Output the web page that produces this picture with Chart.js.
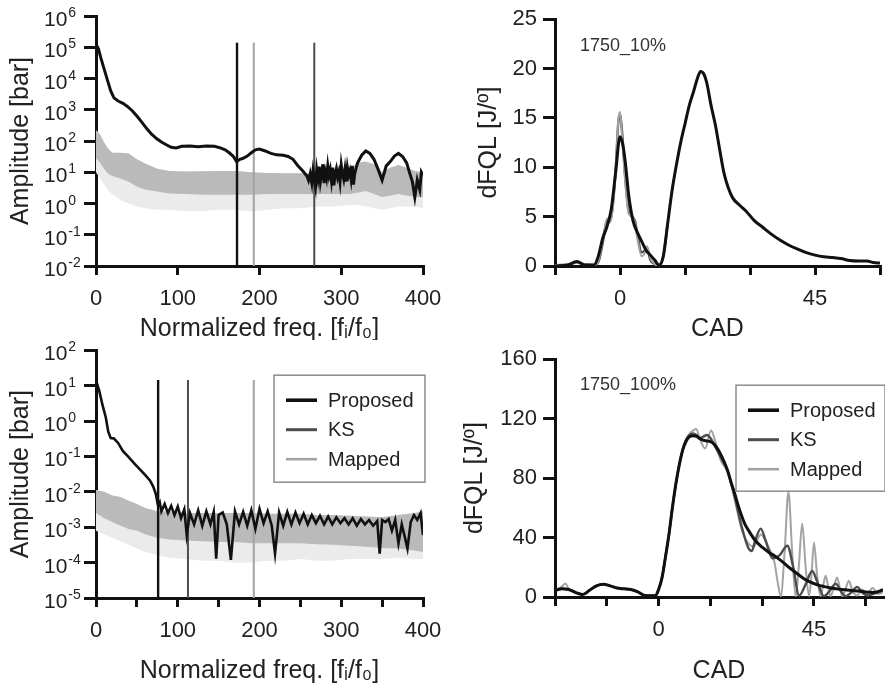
<!DOCTYPE html>
<html>
<head>
<meta charset="utf-8">
<script src="https://cdn.jsdelivr.net/npm/chart.js@4"></script>
<style>
body { margin: 0; background: #fff; width: 885px; height: 683px; overflow: hidden; position: relative; }
canvas { position: absolute; }
</style>
</head>
<body>
<canvas id="c1" width="442" height="340" style="left:0;top:0"></canvas>
<canvas id="c2" width="443" height="340" style="left:442px;top:0"></canvas>
<canvas id="c3" width="442" height="343" style="left:0;top:340px"></canvas>
<canvas id="c4" width="443" height="343" style="left:442px;top:340px"></canvas>
<script>
// ---- data ----
const seriesNames = ['Proposed', 'KS', 'Mapped'];

// top left: spectrum, 1750_10%
const tlFreq = [0,3,6,10,14,18,22,27,33,38, 44,50,56,62,68,74,80,86,92,98, 105,115,125,135,145,152,158,163,168,172, 176,180,185,190,195,200,207,214,221,229, 235,241,247,253,258,260,262,264,265.5,267, 268.5,270,271.5,273,274.5,276,277.5,279,280.5,282, 283.5,285,286.5,288,289.5,291,292.5,294,295.5,297, 298.5,300,301.5,303,304.5,306,307.5,309,310.5,312, 313.5,315,316.5,318,320,325,330,335,340,345, 350,355,360,365,370,375,380,384,387,390, 393,396,398,400];
const tlProposed = [1.26e5,8.9e4,4.5e4,2.0e4,8.9e3,4.0e3,2.4e3,1.9e3,1.6e3,1.3e3, 950,630,400,250,166,120,93,76,63,60, 68,69,66,69,68,60,52,42,32,22, 26,28,33,42,52,55,48,40,36,35, 32,26,16,11,7.6,5.5,9,4.5,11,6, 3.5,12,6.5,15,5,9,18,4.5,10,6.5, 16,8,12,5.5,14,3.8,9,13,7,10, 5,17,9,6,12,5,14,8,11,6, 16,4,9,13,20,35,48,40,26,12.6, 5.6,16,22,33,40,32,20,8.9,5,1.6, 5.6,2.8,10,7.9];
const tlBandFreq = [0,5,10,15,20,30,40,50,60,75,90,110,130,150,170,190,210,230,250,270,290,310,320,330,340,350,360,370,380,390,400];
const tlBandHigh = [220,160,89,56,42,42,40,26,19,13,11,10.5,10.7,11,11,10,9.5,9.3,9.3,9.5,10,12.6,20,22,18,10,14,17,14,11,10];
const tlBandLow = [28,20,12.6,8.9,7.6,6.3,5,3.5,2.8,2.4,2.1,2,1.9,1.9,1.9,1.9,2,2,2,2,2,2,2.2,2.5,2,1.6,1.8,2,1.8,1.6,1.6];
const tlBandSparse = [10,6.3,4,2.5,2,1.26,1,0.8,0.7,0.63,0.63,0.56,0.56,0.63,0.63,0.56,0.63,0.7,0.7,0.8,0.8,0.9,0.9,0.8,0.7,0.63,0.7,0.8,0.8,0.8,0.7];
const tlCutoffFreq = [172.5, 267, 193];   // Proposed, KS, Mapped
const tlCutoffTop = 1.4e5;
const tlDecades = [1e-2,1e-1,1e0,1e1,1e2,1e3,1e4,1e5,1e6];

// bottom left: spectrum, 1750_100%
const blFreq = [0,4,8,12,15,18,22,27,33,40, 47,54,60,66,70,73,76,78,80,84, 88,92,96,100,104,108,111,115,120,125, 130,135,140,144,147,150,155,160,165,170, 175,180,185,190,195,200,205,210,215,219, 224,229,234,239,244,249,254,259,264,269, 274,279,284,289,294,299,304,309,314,319, 324,329,334,339,344,347,350,354,358,362, 366,370,374,378,381,385,389,393,397,400];
const blProposed = [14,7.1,2.8,1.26,0.5,0.33,0.32,0.24,0.14,0.095, 0.063,0.042,0.03,0.021,0.014,0.0089,0.004,0.005,0.0028,0.0045, 0.0025,0.004,0.0022,0.0038,0.0018,0.0032,0.0006,0.0025,0.0012,0.003, 0.0011,0.0028,0.0012,0.0027,0.00013,0.0022,0.0026,0.0012,0.00012,0.0028, 0.0012,0.0027,0.0011,0.003,0.0009,0.0033,0.0013,0.0028,0.0011,0.00018, 0.0026,0.0011,0.0027,0.0012,0.0026,0.0013,0.0024,0.0012,0.0022,0.0013, 0.0021,0.0012,0.002,0.0012,0.0019,0.0013,0.0018,0.0012,0.0018,0.0011, 0.0017,0.0012,0.0016,0.0011,0.0015,0.00018,0.0016,0.0014,0.0017,0.0008, 0.0016,0.00035,0.0012,0.0005,0.00025,0.0014,0.0022,0.0016,0.0025,0.0006];
const blBandFreq = [0,10,20,30,40,50,60,75,90,110,130,150,170,190,210,230,250,270,290,310,330,350,370,390,400];
const blBandHigh = [0.0112,0.01,0.0079,0.0071,0.0056,0.0045,0.0035,0.0028,0.0028,0.0025,0.0025,0.0025,0.0025,0.0025,0.0024,0.0024,0.0024,0.0022,0.0022,0.0021,0.002,0.0019,0.0022,0.0025,0.0028];
const blBandLow = [0.0025,0.0018,0.0014,0.0011,0.00089,0.0008,0.00063,0.0005,0.00045,0.00042,0.0004,0.00038,0.00038,0.00035,0.00035,0.00035,0.00035,0.00033,0.00032,0.0003,0.00028,0.00026,0.00025,0.00022,0.0002];
const blBandSparse = [0.0008,0.00063,0.0005,0.0004,0.00032,0.00025,0.0002,0.00016,0.00014,0.000126,0.000112,0.000112,0.0001,0.0001,0.000112,0.000112,0.000126,0.000112,0.000112,0.000126,0.000126,0.000126,0.00014,0.000126,0.000126];
const blCutoffFreq = [76, 112.5, 193];
const blCutoffTop = 14.5;
const blDecades = [1e-5,1e-4,1e-3,1e-2,1e-1,1e0,1e1,1e2];

// top right: heat release, 1750_10%
const trCad = [-15,-12,-10,-8,-6,-5,-4,-3,-2,-1, 0,0.6,1.2,2,3,4,5,6,7,8, 9,10,11,12,13,14,15,16,17,18, 18.6,19.4,20,21,22,23,24,25,26,27.5, 29,31,33,35,37,39,41,43,45,47, 49,51,53,55,57,58.5,60];
const trProposed = [0,0.1,0.45,0.1,0.1,1.0,2.8,4.0,5.8,9.5, 13.1,12.4,10.6,7.2,4.6,3.4,2.5,1.6,1.1,0.6, 0.1,1.0,4.3,7.6,10.2,12.5,14.4,16.3,17.7,19.2, 19.7,19.4,18.6,16.3,14.3,11.8,9.4,7.9,6.9,6.2, 5.6,4.6,3.9,3.2,2.6,2.1,1.7,1.35,1.1,0.93, 0.85,0.75,0.55,0.5,0.5,0.35,0.3];
const trGrayCad = [-15,-12,-10,-8,-6,-5,-4,-3,-2.5,-2,-1,-0.4,0,0.5,1.2,2,3,3.5,4,5,5.6,6.2,7,8,9,10,11];
const trKS = [0,0.1,0.4,0.1,0.1,0.4,2.3,4.6,4.7,5.0,9.8,14.5,15.4,13.5,9.0,5.6,4.9,4.5,3.2,1.4,1.5,1.9,0.6,0.2,0.05,1.0,4.3];
const trMapped = [0.1,0.2,0.3,0.2,0.1,0.5,2.6,4.8,4.4,4.8,9.5,14.8,15.6,13.0,8.5,5.3,5.0,4.2,2.8,1.0,1.2,2.0,0.8,0.2,0.0,1.0,4.3];

// bottom right: heat release, 1750_100%
const brCad = [-30,-28,-26,-24,-22,-20,-18,-16,-14,-12, -10,-8,-6,-4,-2,-1,0,1,2,3, 4,5,6,7,8,9,10,11,12,13, 14,15,16,17,18,19,20,21,22,23, 24,25,26,28,30,32,34,36,38,40, 42,44,46,48,50,52,54,56,58,60, 62,64,65];
const brProposed = [4.5,5.5,5.0,3.0,1.6,4.5,7.5,8.5,7.5,6.0, 5.5,5.0,3.5,1.0,0.8,0.8,5,13,27,42, 60,76,89,99,105,108,108.5,108,106.5,105.5, 105,104.5,103,100,96,91,85,77,70,62, 55,49,45,38,33.5,30,27,23.5,19.5,16, 12.5,10,8.2,7,6,5.3,4.8,4.4,4,3.3, 3,4,5];
const brKsCad = [-30,-28,-26,-24,-22,-20,-18,-16,-14,-12, -10,-8,-6,-4,-2,-1,0,1,2,3, 4,5,6,7,8,9,10,11,12,13, 14,15,16,18,20,22,24,26,27,28, 29.6,31,33,35,37.3,39,40.7,42.5,44.5,46, 47.9,49.5,51.3,52.8,54.1,55.8,57.5,59,60.4,62, 65];
const brKS = [4.5,5.5,5.0,3.0,1.8,4.5,7.5,8.5,7.5,6.0, 5.5,5.0,3.5,1.0,0.8,0.8,5,13,27,42, 60,76,89,99,106,109,110,109,107,108, 109,107,103,94,85,68,48,33,31,38, 46,38,26,28,34.5,20,1,8,17.5,10, 0.5,4,9,4,0.5,3,6.8,3,1,2, 4.5];
const brMappedCad = [-30,-28,-27,-26,-24,-22,-20,-18,-16,-14, -12,-10,-8,-6,-4,-2,-1,0,1,2, 3,4,5,6,7,8,9,10,10.9,12, 13.5,15.2,16.5,18,20,22,24,25.8,27.5,29.6, 31.5,33.5,34.5,35.4,36.5,37.6,38.7,39.7,40.6,41.6, 42.6,43.6,44.3,45,45.9,46.9,47.6,48.4,49.1,49.8, 50.7,51.7,52.5,53.2,54.1,55.1,56.2,57.5,59,60.4, 62,63.5,65];
const brMapped = [4.5,7,9,5.5,3,1.8,4.5,7.5,8.5,7.5, 6,5.5,5,3.5,1,0.8,0.8,5,13,27, 42,60,76,89,99,106,110,112,113,106, 100,112,104,92,84,66,46,36.7,34,42, 35,24,10,0.5,30,71,30,0.5,20,49.5, 20,0.5,15,36.7,15,0.5,7,14.3,7,0.5, 6,13.2,6,0.5,5,11,4,1,5,2, 6,2,3];

const cadLabels = [0, 45];

// ---- styles ----
const FONT = "'Liberation Sans', Arial, Helvetica, sans-serif";
Chart.defaults.font.family = FONT;
Chart.defaults.color = '#222';

const colors = { Proposed: '#111111', KS: '#4d4d4d', Mapped: '#a3a3a3' };
const widths = { Proposed: 3, KS: 2.4, Mapped: 2 };

function pts(xs, ys) {
    return xs.map((x, i) => ({ x: x, y: ys[i] }));
}

function lineSet(name, xs, ys, extra) {
    return Object.assign({
        label: name,
        data: pts(xs, ys),
        borderColor: colors[name],
        borderWidth: widths[name],
        pointRadius: 0,
        fill: false
    }, extra || {});
}

function cutoffSets(freqs, top, bottom) {
    return seriesNames.map((name, i) => ({
        label: name,
        legendEntry: true,
        data: [{ x: freqs[i], y: bottom }, { x: freqs[i], y: top }],
        borderColor: colors[name],
        borderWidth: name === 'Proposed' ? 2.4 : 2,
        pointRadius: 0,
        fill: false,
        order: 1
    }));
}

function bandSets(xs, high, low, sparse) {
    return [
        { label: 'bandHigh', data: pts(xs, high), borderWidth: 0, pointRadius: 0, fill: false, order: 10 },
        { label: 'bandSparse', data: pts(xs, sparse), borderWidth: 0, pointRadius: 0, fill: { target: '-1' }, backgroundColor: '#ebebeb', order: 12 },
        { label: 'bandDense', data: pts(xs, low), borderWidth: 0, pointRadius: 0, fill: { target: '-2' }, backgroundColor: '#bababa', order: 11 }
    ];
}

function axisLook(tickLen) {
    return {
        border: { color: '#111', width: 3 },
        grid: { display: true, drawOnChartArea: false, drawTicks: true, tickLength: tickLen, tickWidth: 3, lineWidth: 3, color: '#111', tickColor: '#111' }
    };
}

// fixed box for the x axis, no extra side padding for edge labels
function fixX(h) {
    return s => {
        s.height = h;
        s.paddingLeft = 0;
        s.paddingRight = 0;
    };
}

// "10" with raised exponent for the log axes
const powerTicks = {
    id: 'powerTicks',
    afterDraw(chart) {
        const s = chart.scales.y;
        const ctx = chart.ctx;
        ctx.save();
        ctx.fillStyle = '#222';
        ctx.textAlign = 'left';
        ctx.textBaseline = 'alphabetic';
        s.ticks.forEach(t => {
            const y = s.getPixelForValue(t.value);
            const e = Math.round(Math.log10(t.value));
            const x = s.right - 52;
            ctx.font = '21px ' + FONT;
            ctx.fillText('10', x, y + 10);
            const w = ctx.measureText('10').width;
            ctx.font = '14px ' + FONT;
            ctx.fillText(String(e), x + w + 1, y + 1);
        });
        ctx.restore();
    }
};

const boxLegend = {
    id: 'boxLegend',
    afterDraw(chart, args, opts) {
        if (!opts || !opts.show) return;
        const { ctx, chartArea } = chart;
        const x0 = chartArea.right + 2 - opts.w;
        const y0 = chartArea.top + opts.dy;
        ctx.save();
        ctx.strokeStyle = '#8c8c8c';
        ctx.lineWidth = 1.5;
        ctx.strokeRect(x0, y0, opts.w, opts.h);
        const items = chart.data.datasets.filter(d => d.legendEntry);
        items.forEach((d, i) => {
            const y = y0 + 25 + i * 29.5;
            ctx.strokeStyle = d.borderColor;
            ctx.lineWidth = widths[d.label] + 0.6;
            ctx.beginPath();
            ctx.moveTo(x0 + 12, y);
            ctx.lineTo(x0 + 43, y);
            ctx.stroke();
            ctx.fillStyle = '#222';
            ctx.font = '20px ' + FONT;
            ctx.textBaseline = 'middle';
            ctx.textAlign = 'left';
            ctx.fillText(d.label, x0 + 54, y + 1);
        });
        ctx.restore();
    }
};

const caseLabel = {
    id: 'caseLabel',
    afterDraw(chart, args, opts) {
        if (!opts || !opts.text) return;
        const { ctx, chartArea } = chart;
        ctx.save();
        ctx.fillStyle = '#333';
        ctx.font = '18px ' + FONT;
        ctx.textBaseline = 'middle';
        ctx.fillText(opts.text, chartArea.left + 25, chartArea.top + opts.dy);
        ctx.restore();
    }
};

function spectrumChart(id, cfg) {
    const xAxis = Object.assign(axisLook(9), {
        type: 'linear', min: 0, max: 400,
        ticks: {
            stepSize: cfg.xStep, autoSkip: false, maxRotation: 0, padding: 11,
            font: { size: 22 },
            callback: v => (v % 100 === 0 ? String(v) : '')
        },
        title: { display: true, text: 'Normalized freq. [fᵢ/f₀]', font: { size: 25 }, color: '#222', padding: { top: 0, bottom: cfg.titleBottom } },
        afterFit: fixX(cfg.xHeight)
    });
    const yAxis = Object.assign(axisLook(12), {
        type: 'logarithmic', min: cfg.decades[0], max: cfg.decades[cfg.decades.length - 1],
        afterBuildTicks: s => { s.ticks = cfg.decades.map(v => ({ value: v })); },
        ticks: { autoSkip: false, callback: () => '' },
        title: { display: true, text: 'Amplitude [bar]', font: { size: 25 }, color: '#222', padding: { top: 6, bottom: 0 } },
        afterFit: s => { s.width = 96; }
    });
    return new Chart(document.getElementById(id), {
        type: 'line',
        data: { datasets: cfg.datasets },
        options: {
            responsive: false, animation: false,
            layout: { padding: cfg.padding },
            plugins: {
                legend: { display: false }, tooltip: { enabled: false },
                boxLegend: cfg.legend || { show: false }
            },
            scales: { x: xAxis, y: yAxis }
        },
        plugins: [powerTicks, boxLegend]
    });
}

function heatChart(id, cfg) {
    const xAxis = Object.assign(axisLook(9), {
        type: 'linear', min: cfg.xMin, max: cfg.xMax,
        ticks: {
            stepSize: 15, includeBounds: false, autoSkip: false, maxRotation: 0, padding: 11,
            font: { size: 22 },
            callback: v => (cadLabels.includes(v) ? String(v) : '')
        },
        title: { display: true, text: 'CAD', font: { size: 25 }, color: '#222', padding: { top: 0, bottom: cfg.titleBottom } },
        afterFit: fixX(cfg.xHeight)
    });
    const yAxis = Object.assign(axisLook(12), {
        type: 'linear', min: 0, max: cfg.yMax,
        ticks: { stepSize: cfg.yStep, autoSkip: false, padding: 6, font: { size: 22 } },
        title: { display: true, text: 'dFQL [J/º]', font: { size: 25 }, color: '#222', padding: { top: cfg.titlePad, bottom: 0 } },
        afterFit: s => { s.width = 113; }
    });
    return new Chart(document.getElementById(id), {
        type: 'line',
        data: { datasets: cfg.datasets },
        options: {
            responsive: false, animation: false,
            layout: { padding: cfg.padding },
            elements: { line: { cubicInterpolationMode: 'monotone' } },
            plugins: {
                legend: { display: false }, tooltip: { enabled: false },
                boxLegend: cfg.legend || { show: false },
                caseLabel: cfg.caseLabel
            },
            scales: { x: xAxis, y: yAxis }
        },
        plugins: [boxLegend, caseLabel]
    });
}

spectrumChart('c1', {
    xStep: 100, xHeight: 74, titleBottom: -4, decades: tlDecades,
    padding: { left: 0, right: 19, top: 16, bottom: 0 },
    datasets: [lineSet('Proposed', tlFreq, tlProposed, { order: 0, borderWidth: 3 })]
        .concat(cutoffSets(tlCutoffFreq, tlCutoffTop, tlDecades[0]))
        .concat(bandSets(tlBandFreq, tlBandHigh, tlBandLow, tlBandSparse))
});

spectrumChart('c3', {
    xStep: 50, xHeight: 85, titleBottom: -3, decades: blDecades,
    padding: { left: 0, right: 19, top: 8, bottom: 0 },
    legend: { show: true, w: 151, h: 107, dy: 25 },
    datasets: [lineSet('Proposed', blFreq, blProposed, { order: 0, borderWidth: 2.6 })]
        .concat(cutoffSets(blCutoffFreq, blCutoffTop, blDecades[0]))
        .concat(bandSets(blBandFreq, blBandHigh, blBandLow, blBandSparse))
});

heatChart('c2', {
    xMin: -15, xMax: 60, yMax: 25, yStep: 5, xHeight: 74, titlePad: 32, titleBottom: -4,
    padding: { left: 0, right: 5, top: 16, bottom: 0 },
    caseLabel: { text: '1750_10%', dy: 27 },
    datasets: [
        lineSet('Proposed', trCad, trProposed, { order: 0 }),
        lineSet('KS', trGrayCad, trKS, { order: 2 }),
        lineSet('Mapped', trGrayCad, trMapped, { order: 1 })
    ]
});

heatChart('c4', {
    xMin: -30, xMax: 65, yMax: 160, yStep: 40, xHeight: 86, titlePad: 18, titleBottom: -3,
    padding: { left: 0, right: 2, top: 7, bottom: 0 },
    caseLabel: { text: '1750_100%', dy: 26 },
    legend: { show: true, w: 149, h: 106, dy: 26 },
    datasets: [
        lineSet('Proposed', brCad, brProposed, { order: 0, legendEntry: true }),
        lineSet('KS', brKsCad, brKS, { order: 1, legendEntry: true }),
        lineSet('Mapped', brMappedCad, brMapped, { order: 2, legendEntry: true })
    ]
});
</script>
</body>
</html>
